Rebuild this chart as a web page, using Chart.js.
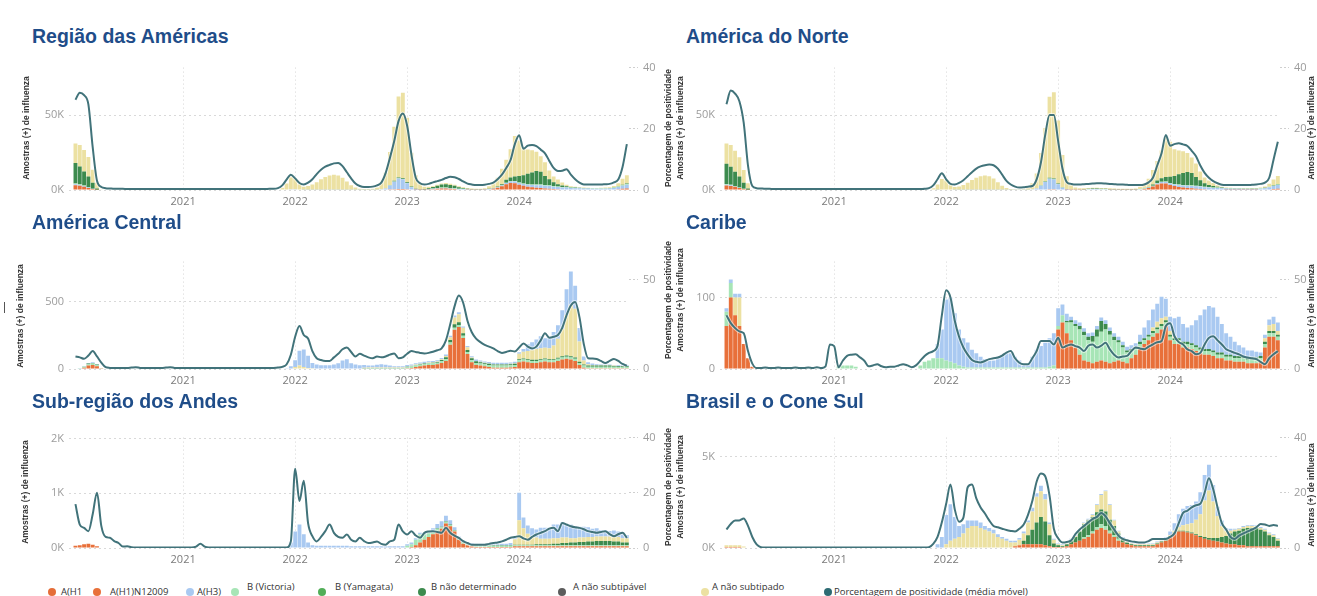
<!DOCTYPE html>
<html lang="pt-BR">
<head>
<meta charset="utf-8">
<title>Influenza – Região das Américas</title>
<script src="https://cdn.jsdelivr.net/npm/chart.js@4.4.1/dist/chart.umd.min.js"></script>
<style>
html,body{margin:0;padding:0;background:#fff;}
body{width:1317px;height:596px;position:relative;overflow:hidden;font-family:"Liberation Sans",Arial,sans-serif;}
canvas{position:absolute;}
.ptitle{position:absolute;font:bold 19.5px "Liberation Sans",Arial,sans-serif;color:#1f4d89;white-space:nowrap;line-height:22px;}
.ytitle{position:absolute;transform:translate(-50%,-50%) rotate(-90deg);font:bold 8.5px "Liberation Sans",Arial,sans-serif;color:#333;white-space:nowrap;}
.lg-dot{position:absolute;width:8px;height:8px;border-radius:50%;}
.lg-txt{position:absolute;font:9.5px "Open Sans",sans-serif;color:#333;white-space:nowrap;line-height:12px;}
.mark{position:absolute;left:4px;top:302px;width:1px;height:11px;background:#555;}
</style>
</head>
<body>
<div class="mark"></div>
<script>
// ---- weekly periods (two-week steps), 2020–2024 ----
const years = [2020, 2021, 2022, 2023, 2024];
const periodLabels = [];
for (const y of years) for (let w = 1; w <= 51; w += 2) periodLabels.push(y + '-S' + String(w).padStart(2, '0'));
const yearTickLabels = ['2021-S01', '2022-S01', '2023-S01', '2024-S01'];

// ---- Região das Américas (milhares de amostras; % positividade) ----
const ra_pct = [null,29.5,31.8,31,28,14,3,1,0.6,0.5,0.4,0.4,0.4,0.3,0.3,0.3,0.3,0.3,0.3,0.3,0.3,0.3,0.3,0.3,0.3,0.3,
 0.3,0.3,0.3,0.3,0.3,0.3,0.3,0.3,0.3,0.3,0.3,0.3,0.3,0.3,0.3,0.3,0.3,0.3,0.3,0.3,0.4,0.4,0.6,1.5,3.4,5,
 3.8,2.3,1.8,2.4,3.5,5.2,6.6,7.6,8.2,8.7,8.8,7.8,5.8,3.8,2.1,1.3,1,1,1.1,1.5,2.4,5.5,10.5,16,22.5,25,
 21,11.5,4,2.2,1.8,2,2.5,2.9,3.3,3.9,4.3,4.2,3.6,2.8,2.1,1.8,1.6,1.6,1.7,2,2.4,3.5,5,7.2,9.8,15,
 17.9,13.5,14.5,14.7,14.3,13.2,12,9.5,7.2,6.2,6.3,6.8,5,3.5,2.4,1.8,1.8,1.8,1.8,1.8,1.9,2,2.5,3.4,7.5,15];
const ra_h1n1 = [null,3.2,2.8,2.2,1.4,0.7,0.2,0,0,0,0,0,0,0,0,0,0,0,0,0,0,0,0,0,0,0,
 0,0,0,0,0,0,0,0,0,0,0,0,0,0,0,0,0,0,0,0,0,0,0,0,0,0,
 0,0,0,0,0,0,0,0,0,0,0,0,0,0,0,0,0,0,0,0,0,0,0.5,0.5,0.6,0.6,
 0.5,0.4,0.2,0.1,0.1,0.2,0.5,0.8,1,1,0.8,0.6,0.4,0.3,0.2,0.1,0.1,0.1,0.2,0.3,0.8,1.5,2.5,3.8,4.6,4.5,
 3.5,2.8,2.2,1.8,1.5,1.3,1,0.8,0.6,0.5,0.4,0.4,0.3,0.3,0.3,0.3,0.3,0.3,0.3,0.3,0.3,0.3,0.4,0.5,0.8,1];
const ra_h3 = [null,0.6,0.5,0.4,0.2,0.1,0,0,0,0,0,0,0,0,0,0,0,0,0,0,0,0,0,0,0,0,
 0,0,0,0,0,0,0,0,0,0,0,0,0,0,0,0,0,0,0,0,0,0,0,0,0.3,0.5,
 0.5,0.3,0.2,0.2,0.2,0.2,0.2,0.2,0.2,0.2,0.2,0.2,0.1,0.1,0.1,0.1,0.1,0.1,0.1,0.2,0.5,1,2.5,5,7,6.5,
 4,1.5,0.5,0.3,0.3,0.3,0.3,0.3,0.3,0.3,0.3,0.3,0.3,0.3,0.3,0.3,0.3,0.3,0.3,0.3,0.3,0.4,0.5,0.8,1,1.2,
 1.2,1.2,1.3,1.5,1.6,1.8,1.8,1.8,1.6,1.5,1.3,1.2,1,0.9,0.8,0.7,0.7,0.6,0.6,0.6,0.6,0.7,1,1.5,2,2.5];
const ra_vic = [null,0.6,0.5,0.4,0.2,0.1,0,0,0,0,0,0,0,0,0,0,0,0,0,0,0,0,0,0,0,0,
 0,0,0,0,0,0,0,0,0,0,0,0,0,0,0,0,0,0,0,0,0,0,0,0,0,0,
 0,0,0,0,0,0,0,0,0,0,0,0,0,0,0,0,0,0,0,0,0,0,0.1,0.2,0.2,0.2,
 0.2,0.1,0,0,0,0.1,0.2,0.3,0.3,0.3,0.3,0.3,0.2,0.2,0.1,0.1,0.1,0.1,0.1,0.1,0.1,0.1,0.1,0.2,0.2,0.3,
 0.3,0.4,0.4,0.4,0.5,0.5,0.5,0.5,0.4,0.4,0.3,0.3,0.3,0.3,0.2,0.2,0.2,0.2,0.2,0.2,0.2,0.2,0.3,0.3,0.4,0.5];
const ra_bnd = [null,13.6,11.9,9.4,7.2,3.9,0.8,0,0,0,0,0,0,0,0,0,0,0,0,0,0,0,0,0,0,0,
 0,0,0,0,0,0,0,0,0,0,0,0,0,0,0,0,0,0,0,0,0,0,0,0,0,0,
 0,0,0,0,0,0,0,0,0,0,0,0,0,0,0,0,0,0,0,0,0,0,0.3,0.5,0.5,0.5,
 0.4,0.3,0.1,0.1,0.2,0.5,1,1.5,2,2.2,2,1.6,1,0.6,0.3,0.2,0.1,0.1,0.1,0.1,0.1,0.3,0.8,2,2.5,3,
 4.3,5.5,7,8,9,8.5,6,4,2.5,1.5,1,0.6,0.4,0.3,0.2,0.2,0.1,0.1,0.1,0.1,0.1,0.1,0.1,0.2,0.3,0.4];
const ra_nsub = [null,13,14.3,14.2,13,8.7,3.8,0.5,0,0,0,0,0,0,0,0,0,0,0,0,0,0,0,0,0,0,
 0,0,0,0,0,0,0,0,0,0,0,0,0,0,0,0,0,0,0,0,0,0,0,1.5,4,8,
 7,3.5,2,2.5,3.5,5,7,8.5,9.5,10,9.5,8,5.5,3,1.5,0.8,0.5,0.5,0.8,1.5,4.5,10.5,22,36,54,57,
 43,22.5,9,3.5,1.5,1,0.5,0.6,0.8,0.8,0.8,0.7,0.6,0.5,0.4,0.3,0.3,0.3,0.5,1.7,3.2,5.9,10.2,13.4,18.9,27,
 23.7,18.1,16.1,14.8,12.9,10.4,9.2,5.9,3.9,3.1,2,1,0.5,0.3,0.2,0.2,0.2,0.2,0.2,0.3,0.4,0.5,0.8,2,4,5.5];

// ---- América do Norte ----
const na_pct = [null,28,32.5,31.5,29,22,8,1.3,0.6,0.5,0.4,0.4,0.3,0.3,0.3,0.3,0.3,0.3,0.3,0.3,0.3,0.3,0.3,0.3,0.3,0.3,
 0.3,0.3,0.3,0.3,0.3,0.3,0.3,0.3,0.3,0.3,0.3,0.3,0.3,0.3,0.3,0.3,0.3,0.3,0.3,0.3,0.3,0.4,0.6,1.5,3.5,5.5,
 3.5,2,1.8,2.3,3.2,4.5,5.8,7,7.7,8.1,8.3,8.1,7,5,3,1.8,1.1,0.8,0.9,1.1,1.3,3.5,9,18,24.5,24.5,
 16,7,2.6,2,1.8,1.8,1.9,2,2.1,2.2,2.2,2.1,2,1.9,1.8,1.8,1.7,1.6,1.6,1.6,1.8,2.5,4,8,12,18,
 14.5,15,15.3,14.9,14.4,12.8,11,8,5.6,4,2.9,2.2,1.7,1.6,1.6,1.6,1.6,1.6,1.6,1.7,1.8,2,2.4,4,9.9,15.8];
const na_h1n1 = [null,3,2.7,2.1,1.3,0.6,0.2,0,0,0,0,0,0,0,0,0,0,0,0,0,0,0,0,0,0,0,
 0,0,0,0,0,0,0,0,0,0,0,0,0,0,0,0,0,0,0,0,0,0,0,0,0,0,
 0,0,0,0,0,0,0,0,0,0,0,0,0,0,0,0,0,0,0,0,0,0,0.4,0.4,0.5,0.5,
 0.4,0.3,0.2,0.1,0.1,0.1,0.2,0.3,0.4,0.4,0.3,0.3,0.2,0.2,0.1,0.1,0.1,0.1,0.2,0.3,0.7,1.3,2.3,3.6,4.4,4.3,
 3.3,2.6,2,1.6,1.3,1.1,0.9,0.7,0.5,0.4,0.3,0.3,0.3,0.2,0.2,0.2,0.2,0.2,0.2,0.2,0.2,0.3,0.3,0.4,0.7,0.9];
const na_h3 = [null,0.5,0.4,0.3,0.2,0.1,0,0,0,0,0,0,0,0,0,0,0,0,0,0,0,0,0,0,0,0,
 0,0,0,0,0,0,0,0,0,0,0,0,0,0,0,0,0,0,0,0,0,0,0,0,0.2,0.4,
 0.4,0.3,0.2,0.2,0.2,0.2,0.2,0.2,0.2,0.2,0.2,0.2,0.1,0.1,0.1,0.1,0.1,0.1,0.1,0.2,0.5,1,2.5,5,7,6.5,
 3.5,1.2,0.4,0.2,0.2,0.2,0.2,0.2,0.2,0.2,0.2,0.2,0.2,0.2,0.2,0.2,0.2,0.2,0.2,0.2,0.2,0.3,0.4,0.7,0.9,1.1,
 1.1,1.1,1.2,1.4,1.5,1.6,1.6,1.6,1.4,1.3,1.1,1,0.9,0.8,0.7,0.6,0.6,0.5,0.5,0.5,0.5,0.6,0.9,1.4,1.9,2.4];
const na_vic = [null,0.5,0.4,0.3,0.2,0.1,0,0,0,0,0,0,0,0,0,0,0,0,0,0,0,0,0,0,0,0,
 0,0,0,0,0,0,0,0,0,0,0,0,0,0,0,0,0,0,0,0,0,0,0,0,0,0,
 0,0,0,0,0,0,0,0,0,0,0,0,0,0,0,0,0,0,0,0,0,0,0.1,0.1,0.2,0.2,
 0.1,0.1,0,0,0,0,0.1,0.1,0.1,0.1,0.1,0.1,0.1,0.1,0.1,0.1,0.1,0.1,0.1,0.1,0.1,0.1,0.1,0.2,0.2,0.3,
 0.3,0.3,0.4,0.4,0.4,0.4,0.4,0.4,0.3,0.3,0.3,0.3,0.2,0.2,0.2,0.2,0.2,0.2,0.2,0.2,0.2,0.2,0.2,0.3,0.3,0.4];
const na_bnd = [null,13.5,12,9.5,7.3,4,0.8,0,0,0,0,0,0,0,0,0,0,0,0,0,0,0,0,0,0,0,
 0,0,0,0,0,0,0,0,0,0,0,0,0,0,0,0,0,0,0,0,0,0,0,0,0,0,
 0,0,0,0,0,0,0,0,0,0,0,0,0,0,0,0,0,0,0,0,0,0,0.2,0.4,0.4,0.4,
 0.3,0.2,0.1,0.1,0.1,0.1,0.2,0.2,0.3,0.3,0.3,0.2,0.2,0.1,0.1,0.1,0.1,0.1,0.1,0.1,0.1,0.3,0.8,1.9,2.4,2.9,
 4.2,5.4,6.9,7.9,8.8,8.3,5.8,3.8,2.3,1.4,0.9,0.5,0.3,0.2,0.2,0.1,0.1,0.1,0.1,0.1,0.1,0.1,0.1,0.1,0.2,0.3];
const na_nsub = [null,13.5,14.5,14,12.8,8.5,3.5,0.4,0,0,0,0,0,0,0,0,0,0,0,0,0,0,0,0,0,0,
 0,0,0,0,0,0,0,0,0,0,0,0,0,0,0,0,0,0,0,0,0,0,0,1.2,3.5,7,
 6,3,1.8,2.2,3.2,4.6,6.5,8,9,9.5,9,7.5,5,2.8,1.3,0.6,0.4,0.4,0.6,1.3,4,10,21.5,35.5,54,57.5,
 42,21.5,8.5,3,1.2,0.8,0.5,0.5,0.5,0.5,0.5,0.5,0.4,0.4,0.3,0.3,0.3,0.3,0.4,1.5,3,5.5,9.8,13,18.5,26.5,
 23.3,17.8,15.8,14.5,12.7,10.2,9,5.8,3.8,3,2,1,0.5,0.3,0.2,0.2,0.2,0.2,0.2,0.3,0.4,0.5,0.8,1.9,3.9,5.4];

// ---- América Central (amostras) ----
const ca_pct = [null,7,6.5,5.7,7.5,10,7,3.5,1,0.6,0.5,0.5,0.5,0.6,0.8,1,0.6,0.5,0.5,0.5,0.5,0.6,0.8,1,0.6,0.5,
 0.5,0.5,0.5,0.5,0.5,0.5,0.5,0.5,0.5,0.5,0.5,0.5,0.5,0.5,0.5,0.5,0.5,0.5,0.5,0.5,0.5,0.6,0.8,1.2,2.5,8,
 18,24,19,17,10,6,5,4.5,4.5,6.5,8.5,11,12,9.5,7,8.5,7.5,6.5,6,7,6.5,7,8,8.7,6,6.5,
 8.5,10,9.5,9,8.7,9,9.6,10.5,11.5,16,25,35,41,37,27,20.5,17,15,13.5,12.5,11.5,10,9,9.5,10.2,9.8,
 12,14.3,12.5,11.5,12.5,16,20,17.5,18,19,23,30,35.5,37.4,29,14,6,5.8,5.6,4.5,3.3,4.5,5.6,4.5,2.8,1.8];
const ca_h1n1 = [null,0,0,10,25,30,20,5,0,0,0,0,0,0,0,0,0,0,0,0,0,0,0,0,0,0,
 0,0,0,0,0,0,0,0,0,0,0,0,0,0,0,0,0,0,0,0,0,0,0,0,0,0,
 0,0,0,0,0,0,0,0,0,0,0,0,0,0,0,0,0,0,0,0,0,0,0,0,0,0,
 5,8,15,20,25,30,30,35,45,60,180,290,310,230,110,50,30,25,20,15,10,10,10,10,12,15,
 50,55,50,45,45,50,55,50,50,60,70,75,70,60,30,10,5,5,5,5,5,5,5,5,5,5];
const ca_h3 = [null,0,3,5,5,5,3,0,0,0,0,0,0,0,0,0,0,0,0,0,0,0,0,0,0,0,
 0,0,0,0,0,0,0,0,0,0,0,0,0,0,0,0,0,0,0,0,0,0,0,0,5,20,
 50,110,130,90,40,30,25,25,25,30,40,60,70,40,30,25,20,15,15,20,25,20,15,10,10,10,
 10,10,10,10,10,10,10,10,10,10,10,15,15,10,10,10,10,10,10,10,10,10,10,10,10,10,
 10,20,50,60,70,90,70,85,100,100,140,190,245,170,100,30,15,10,8,5,5,5,5,5,5,5];
const ca_vic = [null,0,5,8,10,10,8,3,0,0,0,0,0,0,0,0,0,0,0,0,0,0,0,0,0,0,
 0,0,0,0,0,0,0,0,0,0,0,0,0,0,0,0,0,0,0,0,0,0,0,0,0,0,
 0,0,0,0,0,0,0,0,0,0,0,0,0,0,0,0,3,5,5,5,5,5,5,5,5,5,
 8,10,12,12,12,12,12,12,12,12,15,15,15,15,15,15,15,15,15,15,15,15,15,15,15,15,
 15,15,15,15,15,15,15,15,15,15,15,15,15,15,15,15,12,12,12,12,12,12,12,10,10,10];
const ca_bnd = [null,0,0,0,5,5,5,0,0,0,0,0,0,0,0,0,0,0,0,0,0,0,0,0,0,0,
 0,0,0,0,0,0,0,0,0,0,0,0,0,0,0,0,0,0,0,0,0,0,0,0,0,0,
 0,0,0,0,0,0,0,0,0,0,0,0,0,0,0,0,3,3,3,3,3,3,3,3,3,3,
 3,3,3,3,3,3,5,5,10,15,20,25,20,20,15,15,12,10,8,8,8,8,8,8,8,8,
 8,8,8,8,8,8,8,8,8,8,10,10,10,10,8,8,8,8,8,8,8,8,5,5,5,5];
const ca_nsub = [null,0,0,0,0,0,0,0,0,0,0,0,0,0,0,0,0,0,0,0,0,0,0,0,0,0,
 0,0,0,0,0,0,0,0,0,0,0,0,0,0,0,0,0,0,0,0,0,0,0,0,0,0,
 15,25,15,8,5,3,3,3,3,3,3,3,3,3,3,3,3,3,3,3,3,3,3,3,3,3,
 3,3,3,3,3,3,3,3,5,10,20,50,60,40,20,5,3,3,3,3,3,3,3,3,3,5,
 40,50,60,70,80,80,80,80,100,140,200,300,380,360,150,30,10,5,3,3,3,3,3,3,3,3];

// ---- Caribe (amostras) ----
const cb_pct = [null,30,25.6,22.9,21,20,10,3,0.5,0.5,0.8,0.5,0.5,0.8,0.5,0.5,0.5,0.8,0.5,0.5,0.8,0.5,1,0.5,1.5,13.7,
 12.8,1,4.6,7.3,8,8.2,6.5,4.6,1.5,2,2.7,1.5,1,1.3,1.3,2,2.7,2,1,2,4.6,7.3,9,10,13,30,
 44,40,27,18,12,8,5,4,3.7,4.5,5.5,6,6.4,7.5,9.2,10,6,3.5,2.7,2.7,6,10,15.6,15.6,15.6,13.7,
 17.4,12,13,13.7,12.8,12,10,13,13.7,12,13,14.7,11,8,6.4,7,7.3,10,12,11.5,11,12.5,13.7,15,15.6,24,
 25.6,18.3,15,13.7,11,10,8.2,9,13.7,17.4,18.3,16,13.7,11,10,9,8.2,7,6.4,6,5.5,4,2.7,6,8.2,10];
const cb_h1n1 = [null,60,100,75,60,35,15,3,0,0,0,0,0,0,0,0,0,0,0,0,0,0,0,0,0,0,
 0,0,0,0,0,0,0,0,0,0,0,0,0,0,0,0,0,0,0,0,0,0,0,0,0,0,
 0,0,0,0,0,0,0,0,0,0,0,0,0,0,0,0,0,0,0,0,0,0,0,0,0,0,
 55,65,50,40,30,20,12,10,8,10,12,10,8,10,12,10,8,15,20,30,35,40,45,50,55,60,
 40,35,35,30,30,28,25,22,20,20,18,15,15,12,12,10,10,10,8,8,8,10,30,45,45,40];
const cb_h3 = [null,5,5,5,5,0,0,0,0,0,0,0,0,0,0,0,0,0,0,0,0,0,0,0,0,0,
 0,0,0,0,0,0,0,0,0,0,0,0,0,0,0,0,0,0,0,0,0,0,0,0,20,40,
 85,90,70,50,40,35,25,20,15,12,10,10,15,18,20,20,15,10,5,5,15,25,30,35,40,45,
 25,15,10,5,5,5,5,5,5,5,5,5,5,5,5,5,5,5,5,10,15,20,25,25,30,25,
 20,25,30,25,20,25,35,45,55,60,60,50,40,30,25,20,15,12,10,10,8,5,5,8,10,12];
const cb_vic = [null,20,20,0,0,0,0,0,0,0,0,0,0,0,0,0,0,0,0,0,0,0,0,0,0,0,
 0,5,5,5,5,3,0,0,0,0,0,0,0,0,0,0,0,0,0,0,5,10,12,15,15,15,
 12,10,8,5,3,2,2,2,2,2,2,2,2,2,2,2,2,2,2,2,2,2,2,2,3,5,
 5,10,15,25,30,35,35,30,30,35,40,45,40,30,25,20,15,10,8,5,5,5,5,5,5,5,
 5,5,5,5,5,5,5,5,5,5,5,5,5,5,5,5,5,5,5,5,5,5,5,5,5,5];
const cb_bnd = [null,0,0,0,0,0,0,0,0,0,0,0,0,0,0,0,0,0,0,0,0,0,0,0,0,0,
 0,0,0,0,0,0,0,0,0,0,0,0,0,0,0,0,0,0,0,0,0,0,0,0,0,0,
 0,0,0,0,0,0,0,0,0,0,0,0,0,0,0,0,0,0,0,0,0,0,0,0,0,0,
 0,0,2,3,3,5,5,5,8,10,15,8,5,5,3,3,3,3,3,3,3,3,3,3,3,3,
 3,3,3,3,3,3,3,3,3,3,3,3,3,3,3,3,3,3,3,3,3,3,3,3,3,3];
const cb_nsub = [null,0,0,25,40,0,0,0,0,0,0,0,0,0,0,0,0,0,0,0,0,0,0,0,0,0,
 0,0,0,0,0,0,0,0,0,0,0,0,0,0,0,0,0,0,0,0,0,0,0,0,0,0,
 0,0,0,0,0,0,0,0,0,0,0,0,0,0,0,0,0,0,0,0,0,0,0,0,0,0,
 0,0,0,0,0,0,0,0,0,0,0,0,0,0,0,0,0,0,0,0,0,0,5,8,8,5,
 5,3,0,0,0,0,0,0,0,0,0,0,0,0,0,0,0,0,0,0,0,0,5,8,10,5];

// ---- Sub-região dos Andes (milhares de amostras) ----
const an_pct = [null,15.9,8.5,7.3,6.1,12.2,20,8,4,3.7,2.5,1.8,0.5,0.6,0.3,0.2,0.2,0.2,0.2,0.2,0.2,0.2,0.2,0.2,0.2,0.2,
 0.2,0.2,0.2,0.5,1.5,0.5,0.2,0.2,0.2,0.2,0.2,0.2,0.2,0.2,0.2,0.2,0.2,0.2,0.2,0.2,0.2,0.2,0.2,0.2,0.2,2.4,
 28.7,17,24.4,9,4.3,2.4,4,6.1,8.5,5.5,4,3.7,4.9,3,2.4,3.7,2.5,1.8,2,2.4,1.5,1.2,2.4,3,8.5,6,
 4.9,6.1,4.5,3.7,5.5,6,6.1,5.8,5.5,7.3,5.5,4.5,3.7,2.5,1.8,1.2,1.2,1.2,1.2,1.5,1.8,2,2.4,3,3.7,4,
 4.3,3.5,3,4,4.9,5.5,6.1,7,7.3,6.1,9.1,8.5,7.9,7.5,7.3,6.8,6.1,5.8,5.5,5.8,6.1,5,4.3,5,5.5,3.7];
const an_h1n1 = [null,0.04,0.05,0.07,0.08,0.06,0.03,0,0,0,0,0,0,0,0,0,0,0,0,0,0,0,0,0,0,0,
 0,0,0,0,0,0,0,0,0,0,0,0,0,0,0,0,0,0,0,0,0,0,0,0,0,0,
 0,0,0,0,0,0,0,0,0,0,0,0,0,0,0,0,0,0,0,0,0,0,0,0,0,0,
 0.01,0.02,0.05,0.1,0.15,0.2,0.25,0.3,0.35,0.45,0.4,0.3,0.15,0.08,0.05,0.03,0.02,0.02,0.02,0.02,0.02,0.02,0.02,0.02,0.02,0.03,
 0.03,0.03,0.03,0.03,0.03,0.03,0.03,0.03,0.03,0.03,0.03,0.03,0.03,0.03,0.03,0.03,0.03,0.03,0.03,0.03,0.03,0.03,0.03,0.03,0.03,0.03];
const an_h3 = [null,0,0,0,0,0,0,0,0,0,0,0,0,0,0,0,0,0,0,0,0,0,0,0,0,0,
 0,0,0,0,0,0,0,0,0,0,0,0,0,0,0,0,0,0,0,0,0,0,0,0,0.02,0.1,
 0.3,0.43,0.25,0.1,0.05,0.04,0.04,0.04,0.04,0.04,0.04,0.04,0.04,0.03,0.03,0.03,0.03,0.03,0.03,0.03,0.03,0.03,0.03,0.03,0.03,0.03,
 0.03,0.03,0.03,0.03,0.03,0.03,0.05,0.08,0.1,0.1,0.08,0.05,0.03,0.03,0.03,0.03,0.03,0.03,0.03,0.03,0.03,0.03,0.03,0.03,0.04,0.05,
 0.5,0.2,0.15,0.15,0.15,0.2,0.2,0.2,0.25,0.25,0.28,0.25,0.25,0.22,0.2,0.2,0.18,0.15,0.15,0.12,0.12,0.1,0.12,0.1,0.08,0.06];
const an_vic = [null,0,0,0,0,0,0,0,0,0,0,0,0,0,0,0,0,0,0,0,0,0,0,0,0,0,
 0,0,0,0,0,0,0,0,0,0,0,0,0,0,0,0,0,0,0,0,0,0,0,0,0,0,
 0,0,0,0,0,0,0,0,0,0,0,0,0,0,0,0,0,0,0,0,0,0,0,0,0,0,
 0.03,0.05,0.1,0.15,0.1,0.08,0.05,0.05,0.03,0.03,0.02,0.02,0.02,0.02,0.02,0.02,0.02,0.02,0.02,0.02,0.02,0.02,0.02,0.02,0.02,0.02,
 0.02,0.02,0.02,0.02,0.02,0.02,0.02,0.02,0.02,0.02,0.02,0.02,0.02,0.02,0.02,0.02,0.02,0.02,0.02,0.02,0.02,0.02,0.02,0.02,0.02,0.02];
const an_bnd = [null,0,0,0,0,0,0,0,0,0,0,0,0,0,0,0,0,0,0,0,0,0,0,0,0,0,
 0,0,0,0,0,0,0,0,0,0,0,0,0,0,0,0,0,0,0,0,0,0,0,0,0,0,
 0,0,0,0,0,0,0,0,0,0,0,0,0,0,0,0,0,0,0,0,0,0,0,0,0,0,
 0,0,0,0,0,0,0.01,0.01,0.01,0.01,0.01,0.01,0.01,0.01,0.01,0.01,0.01,0.01,0.01,0.01,0.01,0.01,0.01,0.01,0.01,0.01,
 0.01,0.01,0.01,0.01,0.02,0.02,0.02,0.02,0.03,0.03,0.04,0.04,0.05,0.05,0.06,0.06,0.07,0.07,0.08,0.08,0.08,0.08,0.07,0.07,0.05,0.05];
const an_nsub = [null,0,0,0,0,0,0,0,0,0,0,0,0,0,0,0,0,0,0,0,0,0,0,0,0,0,
 0,0,0,0,0,0,0,0,0,0,0,0,0,0,0,0,0,0,0,0,0,0,0,0,0,0,
 0,0,0,0,0,0,0,0,0,0,0,0,0,0,0,0,0,0,0,0,0,0,0,0,0,0,
 0,0,0,0,0,0,0,0,0,0,0,0,0,0,0,0,0,0,0,0,0,0,0,0,0,0.1,
 0.45,0.3,0.2,0.15,0.12,0.1,0.1,0.1,0.1,0.1,0.1,0.1,0.08,0.08,0.08,0.08,0.08,0.08,0.08,0.08,0.08,0.08,0.08,0.08,0.08,0.08];

// ---- Brasil e o Cone Sul (milhares de amostras) ----
const br_pct = [null,6.7,8.7,10,10,10.7,8,4,1.3,0.3,0.2,0.2,0.2,0.2,0.2,0.2,0.2,0.2,0.2,0.2,0.2,0.2,0.2,0.2,0.2,0.2,
 0.2,0.2,0.2,0.2,0.2,0.2,0.2,0.2,0.2,0.2,0.2,0.2,0.2,0.2,0.2,0.2,0.2,0.2,0.2,0.2,0.2,0.2,0.3,1.5,4,9.3,
 16,23,14,9.5,11,22,23,18,14.7,12.5,10,8,7.5,7,6.5,6.2,6,7,8.5,12,17,24,27,26,19,7,
 3.5,2,2.2,2.7,5,6.7,8,9.3,10.5,11.3,12.7,11.5,9,6.7,4.5,3.3,2.8,2.4,2.2,2,2,2.5,3.3,3.3,3.3,3.3,
 4,5.3,9,12.7,13.5,14.7,15.5,16,20,25.3,21.3,14.7,9,6.7,4,3.3,4.5,5.3,6,6.7,7.5,8.7,8.5,8,8.3,8];
const br_h1n1 = [null,0.05,0.05,0.05,0.05,0.03,0,0,0,0,0,0,0,0,0,0,0,0,0,0,0,0,0,0,0,0,
 0,0,0,0,0,0,0,0,0,0,0,0,0,0,0,0,0,0,0,0,0,0,0,0,0,0,
 0,0,0,0,0,0,0,0,0,0,0,0,0,0,0,0,0.1,0.15,0.2,0.2,0.2,0.2,0.2,0.15,0.1,0.05,
 0.05,0.05,0.1,0.2,0.3,0.4,0.5,0.6,0.8,1,1.1,1,0.8,0.6,0.4,0.3,0.2,0.15,0.1,0.1,0.1,0.1,0.1,0.2,0.3,0.4,
 0.6,0.8,0.9,0.9,0.85,0.8,0.7,0.6,0.5,0.45,0.4,0.35,0.3,0.25,0.2,0.2,0.15,0.15,0.1,0.1,0.1,0.1,0.1,0.1,0.1,0.1];
const br_h3 = [null,0,0,0,0,0,0,0,0,0,0,0,0,0,0,0,0,0,0,0,0,0,0,0,0,0,
 0,0,0,0,0,0,0,0,0,0,0,0,0,0,0,0,0,0,0,0,0,0,0,0,0.2,0.6,
 1.6,2,1.2,0.6,0.5,0.4,0.3,0.3,0.3,0.2,0.2,0.2,0.15,0.1,0.1,0.1,0.1,0.1,0.1,0.1,0.2,0.2,0.3,0.3,0.1,0.05,
 0.05,0.05,0.05,0.05,0.05,0.05,0.05,0.05,0.05,0.05,0.05,0.05,0.05,0.05,0.05,0.05,0.05,0.05,0.05,0.05,0.05,0.05,0.05,0.05,0.05,0.1,
 0.2,0.4,0.7,0.9,1,1,1,1.2,1.4,1.4,0.9,0.5,0.3,0.15,0.1,0.05,0.05,0.05,0.05,0.05,0.05,0.05,0.05,0.05,0.05,0.05];
const br_vic = [null,0,0,0,0,0,0,0,0,0,0,0,0,0,0,0,0,0,0,0,0,0,0,0,0,0,
 0,0,0,0,0,0,0,0,0,0,0,0,0,0,0,0,0,0,0,0,0,0,0,0,0,0,
 0,0,0,0,0,0,0,0,0,0,0,0,0,0,0,0,0,0,0,0,0,0,0,0,0,0,
 0,0,0,0,0,0,0.1,0.1,0.1,0.15,0.2,0.2,0.15,0.1,0.1,0,0,0,0,0,0,0,0,0,0,0,
 0,0,0,0,0,0,0,0,0,0,0,0,0,0,0,0,0,0,0,0,0,0,0,0,0,0];
const br_bnd = [null,0,0,0,0,0,0,0,0,0,0,0,0,0,0,0,0,0,0,0,0,0,0,0,0,0,
 0,0,0,0,0,0,0,0,0,0,0,0,0,0,0,0,0,0,0,0,0,0,0,0,0,0,
 0,0,0,0,0,0,0,0,0,0,0,0,0,0,0,0,0,0,0.2,0.5,0.8,1.2,1.5,1.3,0.6,0.2,
 0.1,0.05,0.1,0.2,0.3,0.5,0.7,0.8,0.8,0.8,0.8,0.8,0.6,0.5,0.3,0.2,0.1,0.05,0.05,0.05,0.05,0.05,0.05,0.05,0.05,0.05,
 0.05,0.05,0.05,0.05,0.05,0.05,0.05,0.05,0.1,0.1,0.15,0.2,0.3,0.4,0.6,0.7,0.8,0.9,1,1,1,0.9,0.8,0.6,0.5,0.3];
const br_nsub = [null,0.1,0.1,0.1,0.1,0.05,0,0,0,0,0,0,0,0,0,0,0,0,0,0,0,0,0,0,0,0,
 0,0,0,0,0,0,0,0,0,0,0,0,0,0,0,0,0,0,0,0,0,0,0,0,0,0,
 0.2,0.4,0.5,0.6,0.8,1.1,1.2,1.2,1.1,1,0.9,0.8,0.6,0.5,0.4,0.3,0.2,0.3,0.4,0.7,1,1.4,1.4,1.2,0.6,0.2,
 0.05,0.05,0.05,0.05,0.05,0.05,0.05,0.05,0.1,0.4,0.8,1.1,0.8,0.3,0.1,0.05,0.05,0.05,0.05,0.05,0.05,0.05,0.05,0.05,0.05,0.05,
 0.05,0.1,0.2,0.3,0.4,0.5,0.8,1.2,2,2.6,2,1.2,0.6,0.3,0.15,0.1,0.1,0.1,0.1,0.1,0.1,0.1,0.1,0.1,0.1,0.1];

// ---- axis tick values ----
const ticksK50 = [0, 50];
const ticksPct40 = [0, 20, 40];
const ticksCentral = [0, 500];
const ticksCaribe = [0, 100];
const ticksPct50 = [0, 50];
const ticksAndes = [0, 1, 2];
const ticksBrasil = [0, 5];

// ---- series styles ----
const SERIES = {
  h1:   { label: 'A(H1',              color: '#e56d38' },
  h1n1: { label: 'A(H1)N12009',       color: '#e8703a' },
  h3:   { label: 'A(H3)',             color: '#a9c9f1' },
  vic:  { label: 'B (Victoria)',      color: '#a7e5b6' },
  yam:  { label: 'B (Yamagata)',      color: '#52ae58' },
  bnd:  { label: 'B não determinado', color: '#3d8b4e' },
  nsv:  { label: 'A não subtipável',  color: '#5c5c5c' },
  nsub: { label: 'A não subtipado',   color: '#ece1a2' },
  pct:  { label: 'Porcentagem de positividade (média móvel)', color: '#2d6b73' }
};
const LINE_COLOR = '#41737a';

const fmtK = v => v + 'K';
const fmtN = v => String(v);

// column / row geometry of the six panels
const COLS = [
  { x: 0,   w: 676, yW: 69, y2W: 47 },
  { x: 676, w: 641, yW: 44, y2W: 37 }
];
const ROWS = [
  { y: 56,  h: 156, pad: 10, xH: 22 },
  { y: 250, h: 142, pad: 11, xH: 23 },
  { y: 426, h: 144, pad: 11, xH: 22 }
];

const panels = [
  { title: 'Região das Américas', col: 0, row: 0, pct: ra_pct,
    bars: { h1n1: ra_h1n1, h3: ra_h3, vic: ra_vic, bnd: ra_bnd, nsub: ra_nsub },
    stack: ['h1n1', 'h3', 'vic', 'bnd', 'nsub'], yMax: 81.6, yTicks: ticksK50, fmt: fmtK, y2Max: 40, y2Ticks: ticksPct40 },
  { title: 'América do Norte', col: 1, row: 0, pct: na_pct,
    bars: { h1n1: na_h1n1, h3: na_h3, vic: na_vic, bnd: na_bnd, nsub: na_nsub },
    stack: ['h1n1', 'h3', 'vic', 'bnd', 'nsub'], yMax: 81.6, yTicks: ticksK50, fmt: fmtK, y2Max: 40, y2Ticks: ticksPct40 },
  { title: 'América Central', col: 0, row: 1, pct: ca_pct,
    bars: { h1n1: ca_h1n1, h3: ca_h3, vic: ca_vic, bnd: ca_bnd, nsub: ca_nsub },
    stack: ['h1n1', 'vic', 'bnd', 'nsub', 'h3'], yMax: 794, yTicks: ticksCentral, fmt: fmtN, y2Max: 60, y2Ticks: ticksPct50 },
  { title: 'Caribe', col: 1, row: 1, pct: cb_pct,
    bars: { h1n1: cb_h1n1, h3: cb_h3, vic: cb_vic, bnd: cb_bnd, nsub: cb_nsub },
    stack: ['h1n1', 'vic', 'bnd', 'nsub', 'h3'], yMax: 150, yTicks: ticksCaribe, fmt: fmtN, y2Max: 60, y2Ticks: ticksPct50 },
  { title: 'Sub-região dos Andes', col: 0, row: 2, pct: an_pct,
    bars: { h1n1: an_h1n1, h3: an_h3, vic: an_vic, bnd: an_bnd, nsub: an_nsub },
    stack: ['h1n1', 'vic', 'bnd', 'nsub', 'h3'], yMax: 2.02, yTicks: ticksAndes, fmt: fmtK, y2Max: 40, y2Ticks: ticksPct40 },
  { title: 'Brasil e o Cone Sul', col: 1, row: 2, pct: br_pct,
    bars: { h1n1: br_h1n1, h3: br_h3, vic: br_vic, bnd: br_bnd, nsub: br_nsub },
    stack: ['h1n1', 'vic', 'bnd', 'nsub', 'h3'], yMax: 6.04, yTicks: ticksBrasil, fmt: fmtK, y2Max: 40, y2Ticks: ticksPct40 }
];

for (const p of panels) {
  const all = [p.pct, ...Object.values(p.bars)];
  for (const a of all) if (a.length !== periodLabels.length) throw new Error(p.title + ': ' + a.length);
}

Chart.defaults.font.family = '"Open Sans", "Noto Sans", sans-serif';

const yearIdx = yearTickLabels.map(l => periodLabels.indexOf(l));

function el(cls, text, css) {
  const d = document.createElement('div');
  d.className = cls;
  if (text) d.textContent = text;
  Object.assign(d.style, css);
  document.body.appendChild(d);
  return d;
}

function buildPanel(p) {
  const c = COLS[p.col], r = ROWS[p.row];
  const cv = document.createElement('canvas');
  cv.width = c.w; cv.height = r.h;
  cv.style.left = c.x + 'px'; cv.style.top = r.y + 'px';
  cv.style.width = c.w + 'px'; cv.style.height = r.h + 'px';
  document.body.appendChild(cv);

  const datasets = [
    { type: 'line', label: SERIES.pct.label, data: p.pct, yAxisID: 'y2', borderColor: LINE_COLOR,
      borderWidth: 2, pointRadius: 0, cubicInterpolationMode: 'monotone', order: -2 },
    { type: 'line', label: '', data: p.pct, yAxisID: 'y2', borderColor: 'rgba(255,255,255,0.55)',
      borderWidth: 4, pointRadius: 0, cubicInterpolationMode: 'monotone', order: -1 }
  ];
  for (const k of p.stack) {
    datasets.push({ type: 'bar', label: SERIES[k].label, data: p.bars[k], yAxisID: 'y',
      backgroundColor: SERIES[k].color, borderWidth: 0, barPercentage: 0.9, categoryPercentage: 1, stack: 'flu' });
  }

  new Chart(cv, {
    type: 'bar',
    data: { labels: periodLabels, datasets },
    options: {
      responsive: false, animation: false, devicePixelRatio: 1,
      layout: { padding: { top: r.pad, left: 0, right: 0, bottom: 0 } },
      plugins: { legend: { display: false }, tooltip: { enabled: false }, title: { display: false } },
      scales: {
        x: {
          stacked: true, offset: true,
          grid: { offset: false, color: '#d6d6d6', drawTicks: false, borderDash: [1, 3] },
          border: { display: false, dash: [1, 3] },
          ticks: { autoSkip: false, maxRotation: 0, padding: 5, color: '#7a7a7a', font: { size: 11 },
            callback(v) { return this.getLabelForValue(v).slice(0, 4); } },
          afterBuildTicks(s) { s.ticks = s.ticks.filter(t => yearIdx.includes(t.value)); },
          afterFit(s) { s.height = r.xH; }
        },
        y: {
          stacked: true, position: 'left', min: 0, max: p.yMax,
          grid: { color: '#d9d9d9', drawTicks: false, borderDash: [2, 3] },
          border: { display: false, dash: [2, 3] },
          ticks: { padding: 5, color: '#9c9c9c', font: { size: 11 }, callback: v => p.fmt(v) },
          afterBuildTicks(s) { s.ticks = p.yTicks.map(v => ({ value: v })); },
          afterFit(s) { s.width = c.yW; }
        },
        y2: {
          position: 'right', min: 0, max: p.y2Max,
          grid: { drawOnChartArea: false, drawTicks: true, tickLength: 9, tickColor: '#cfcfcf', tickBorderDash: [2, 2] },
          border: { display: false },
          ticks: { padding: 5, color: '#9c9c9c', font: { size: 11 } },
          afterBuildTicks(s) { s.ticks = p.y2Ticks.map(v => ({ value: v })); },
          afterFit(s) { s.width = c.y2W; }
        }
      }
    }
  });

  // panel heading
  const titleTop = [25, 211, 390][p.row];
  el('ptitle', p.title, { left: (p.col === 0 ? 32 : 686) + 'px', top: titleTop + 'px' });
}

panels.forEach(buildPanel);

// axis titles
const rowMid = [128, 316, 492];
const pairMid = [128, 300, 487];
const leftTitleX = [26, 20, 25];
rowMid.forEach((m, i) => {
  el('ytitle', 'Amostras (+) de influenza', { left: leftTitleX[i] + 'px', top: m + 'px' });
  el('ytitle', 'Porcentagem de positividade', { left: '668px', top: pairMid[i] + 'px' });
  el('ytitle', 'Amostras (+) de influenza', { left: '680px', top: pairMid[i] + 'px' });
  el('ytitle', 'Amostras (+) de influenza', { left: '1311px', top: (i === 2 ? 495 : m) + 'px' });
});

// legend
const legendItems = [
  ['h1', 52, 61, false], ['h1n1', 97, 110, false], ['h3', 190, 197, false],
  ['vic', 235, 247, true], ['yam', 322, 335, true], ['bnd', 422, 431, true],
  ['nsv', 562, 573, true], ['nsub', 705, 712, true], ['pct', 828, 834, false]
];
for (const [k, dx, tx, raised] of legendItems) {
  el('lg-dot', '', { left: (dx - 4) + 'px', top: '588px', background: SERIES[k].color });
  el('lg-txt', SERIES[k].label, { left: tx + 'px', top: (raised ? 581 : 586) + 'px' });
}
</script>
</body>
</html>
